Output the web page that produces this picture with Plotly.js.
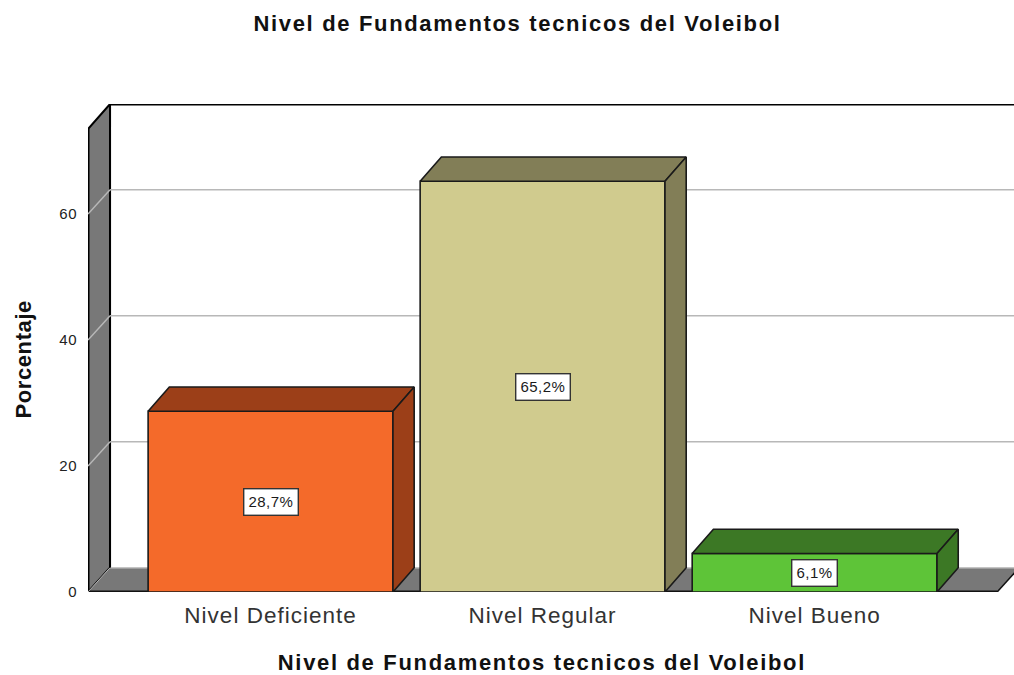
<!DOCTYPE html>
<html>
<head>
<meta charset="utf-8">
<script src="https://cdn.plot.ly/plotly-3.0.1.min.js"></script>
<style>
html,body{margin:0;padding:0;background:#fff}
#chart{width:1014px;height:675px}
.gtitle,.xtitle{letter-spacing:1.67px}
.ytitle{letter-spacing:0.6px}
.xtick text{letter-spacing:1px}
.ytick text{letter-spacing:0.5px}
.annotation-text{letter-spacing:0.5px}
</style>
</head>
<body>
<div id="chart"></div>
<script>
const categories = ["Nivel Deficiente", "Nivel Regular", "Nivel Bueno"];
const percentages = [28.7, 65.2, 6.1];
const valueLabels = ["28,7%", "65,2%", "6,1%"];
const frontColors = ["#F46A2A", "#D0CB8E", "#5EC438"];
const darkColors = ["#9C3F18", "#827E57", "#3C7825"];
const yTicks = [0, 20, 40, 60];
const chartTitle = "Nivel de Fundamentos tecnicos del Voleibol";

// depth of the pseudo-3D box, in axis units
const depthX = 0.081, depthY = 3.85;
const barDepthX = 0.078;
const barWidth = 0.9;
const xMin = -0.671, xMax = 2.733, yMax = 77.46;
const frontTop = yMax - 3.97;
const floorEnd = 2.671;
const positions = categories.map((_, i) => i);

const polygon = (xs, ys, fill, width, color) => ({
  type: "path", xref: "x", yref: "y", layer: "below",
  path: xs.map((x, i) => (i ? "L" : "M") + x + "," + ys[i]).join(" ") + " Z",
  fillcolor: fill, line: {color: color || "#000", width: width}
});
const segment = (x0, y0, x1, y1, color, width) => ({
  type: "line", xref: "x", yref: "y", layer: "below",
  x0, y0, x1, y1, line: {color, width}
});

const shapes = [
  polygon([xMin, xMin + depthX, xMin + depthX, xMin], [frontTop, yMax, depthY, 0], "#787878", 2),
  polygon([xMin, floorEnd, floorEnd + depthX, xMin + depthX], [0, 0, depthY, depthY], "#787878", 0),
  segment(xMin + depthX, depthY, xMax, depthY, "#C4C4C4", 1.5),
  segment(xMin, 0, floorEnd, 0, "#111", 3),
  segment(floorEnd, 0, floorEnd + depthX, depthY, "#111", 1.5),
  segment(xMin + depthX, yMax, xMax, yMax, "#000", 3),
  segment(xMin + depthX, yMax, xMin + depthX, depthY, "#000", 2),
  segment(xMin, 0, xMin, frontTop, "#000", 3),
  segment(xMin, 0, xMin + depthX, depthY, "#B9B9B9", 1)
];
yTicks.slice(1).forEach(v => {
  shapes.push(segment(xMin, v, xMin + depthX, v + depthY, "#B8B8B8", 1.5));
  shapes.push(segment(xMin + depthX, v + depthY, xMax, v + depthY, "#B8B8B8", 1.5));
});

const frontTrace = {
  type: "bar", x: positions, y: percentages, width: barWidth,
  marker: {color: frontColors, line: {color: "#1A1A1A", width: 1.6}},
  cliponaxis: false, hoverinfo: "skip", showlegend: false
};

const faceTraces = [];
percentages.forEach((v, i) => {
  const l = i - barWidth / 2, r = i + barWidth / 2;
  const face = (xs, ys) => ({
    type: "scatter", mode: "lines", x: xs, y: ys, fill: "toself", fillcolor: darkColors[i],
    line: {color: "#1A1A1A", width: 1.6}, cliponaxis: false, hoverinfo: "skip", showlegend: false
  });
  faceTraces.push(face([l, r, r + barDepthX, l + barDepthX, l], [v, v, v + depthY, v + depthY, v]));
  faceTraces.push(face([r, r + barDepthX, r + barDepthX, r, r], [0, depthY, v + depthY, v, 0]));
});

const labels = percentages.map((v, i) => ({
  x: positions[i], y: v / 2, xref: "x", yref: "y", text: valueLabels[i], showarrow: false,
  font: {family: "Liberation Sans, Arial, sans-serif", size: 15, color: "#1A1A1A"},
  bgcolor: "#FFFFFF", bordercolor: "#333333", borderwidth: 1.4, borderpad: 4
}));

const layout = {
  width: 1014, height: 675,
  margin: {l: 88, r: 0, t: 104, b: 83, autoexpand: false},
  paper_bgcolor: "#fff", plot_bgcolor: "#fff",
  font: {family: "Liberation Sans, Arial, sans-serif", color: "#000"},
  title: {
    text: "<b>" + chartTitle + "</b>", x: 517.5 / 1014, xanchor: "center", xref: "container",
    y: 0.966, yanchor: "middle", font: {size: 22, color: "#111"}
  },
  xaxis: {
    range: [xMin, xMax], tickmode: "array", tickvals: positions, ticktext: categories,
    showgrid: false, zeroline: false, showline: false,
    ticks: "outside", ticklen: 3, tickcolor: "rgba(0,0,0,0)",
    tickfont: {size: 22.5, color: "#333"},
    title: {text: "<b>" + chartTitle + "\u2009\u2009\u2009</b>", font: {size: 22, color: "#111"}, standoff: 27}
  },
  yaxis: {
    range: [0, yMax], tickmode: "array", tickvals: yTicks, ticktext: yTicks.map(String),
    showgrid: false, zeroline: false, showline: false,
    ticks: "outside", ticklen: 7, tickcolor: "rgba(0,0,0,0)",
    tickfont: {size: 15, color: "#222"},
    title: {text: "<b>Porcentaje\u2003</b>", font: {size: 22, color: "#111"}, standoff: 21}
  },
  shapes, annotations: labels, showlegend: false, bargap: 0.1
};

Plotly.newPlot("chart", [frontTrace].concat(faceTraces), layout, {displayModeBar: false, staticPlot: true});
</script>
</body>
</html>
